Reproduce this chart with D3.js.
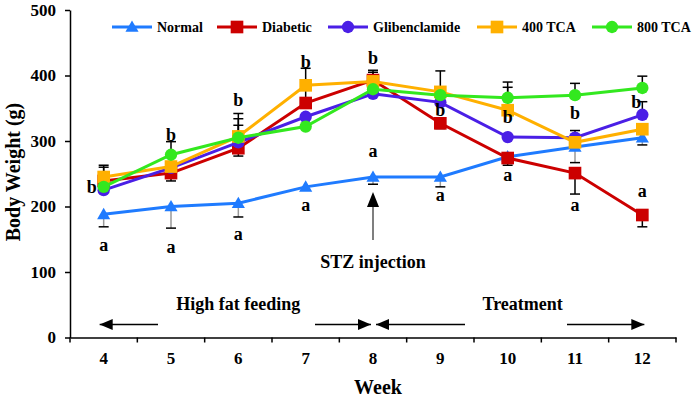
<!DOCTYPE html>
<html>
<head>
<meta charset="utf-8">
<script src="https://cdn.jsdelivr.net/npm/d3@7"></script>
<style>
  html, body { margin: 0; padding: 0; background: #fff; }
  svg { display: block; font-family: "Liberation Serif", "Times New Roman", serif; font-weight: bold; }
</style>
</head>
<body>
<svg id="chart" width="693" height="402"></svg>
<script>
// ---------------- data ----------------
const weeks = [4, 5, 6, 7, 8, 9, 10, 11, 12];
const yTicks = [0, 100, 200, 300, 400, 500];
const seriesNames = ["Normal", "Diabetic", "Glibenclamide", "400 TCA", "800 TCA"];

const normal        = [188, 200, 205, 230, 245, 245, 276, 291, 305];
const diabetic      = [239, 251, 289, 358, 393, 327, 274, 251, 187];
const glibenclamide = [225, 259, 298, 337, 372, 359, 306, 305, 340];
const tca400        = [245, 261, 307, 385, 391, 375, 347, 298, 318];
const tca800        = [230, 279, 305, 322, 379, 370, 366, 370, 381];

// signed error bars: positive = drawn upward, negative = drawn downward
const normalErr        = [-19, -33, -21, 0, -11, -15, -5, -24, -11];
const diabeticErr      = [21, -12, -12, 27, 12, -8, -11, -32, -18];
const glibenclamideErr = [0, 0, 26, 0, 0, 0, 0, 11, 20];
const tca400Err        = [18, 0, 35, 26, 17, 32, 35, 0, 0];
const tca800Err        = [0, 20, 29, 0, 0, 0, 24, 18, 18];

// significance letters
const letterWeeks  = [4, 5, 6, 7, 8, 9, 10, 11, 12, 4, 5, 6, 7, 8, 9, 10, 11, 12];
const letterText   = ["b","b","b","b","b","b","b","b","b","a","a","a","a","a","a","a","a","a"];
const letterValues = [230, 309, 363, 420, 427, 347, 337, 343, 360, 138, 135, 155, 199, 282, 214, 245, 199, 221];

// ---------------- setup ----------------
const svg = d3.select("#chart");
const colors = ["#1f7bff", "#cc0000", "#4a1fe6", "#ffb000", "#33e81f"];
const shapes = [d3.symbolTriangle, d3.symbolSquare, d3.symbolCircle, d3.symbolSquare, d3.symbolCircle];
const shapeSize = [75, 160, 120, 160, 120];
const values = [normal, diabetic, glibenclamide, tca400, tca800];
const errs = [normalErr, diabeticErr, glibenclamideErr, tca400Err, tca800Err];

const x = d3.scaleBand().domain(weeks).range([70, 676]).paddingInner(0).paddingOuter(0);
const cx = w => x(w) + x.bandwidth() / 2;
const y = d3.scaleLinear().domain([0, 500]).range([337.5, 10]);

// ---------------- axes ----------------
const yAxis = svg.append("g").attr("transform", "translate(70,0)")
  .call(d3.axisLeft(y).tickValues(yTicks).tickSize(5).tickSizeOuter(0).tickPadding(9));
yAxis.select(".domain").attr("stroke", "#000").attr("stroke-width", 1.5);
yAxis.selectAll(".tick line").attr("stroke", "#000").attr("stroke-width", 1.5);
yAxis.selectAll(".tick text").attr("font-size", 17).attr("font-family", "Liberation Serif")
  .attr("font-weight", "bold").attr("fill", "#000");

const xAxis = svg.append("g").attr("transform", `translate(0,${y(0)})`)
  .call(d3.axisBottom(x).tickSize(0).tickSizeOuter(0).tickPadding(14));
xAxis.select(".domain").attr("stroke", "#000").attr("stroke-width", 1.5);
xAxis.selectAll(".tick text").attr("font-size", 17).attr("font-family", "Liberation Serif")
  .attr("font-weight", "bold").attr("fill", "#000");
// tick marks at category boundaries
const edges = weeks.map(w => x(w)).concat([x(weeks[weeks.length - 1]) + x.bandwidth()]);
svg.append("g").selectAll("line").data(edges).join("line")
  .attr("x1", d => d).attr("x2", d => d)
  .attr("y1", y(0)).attr("y2", y(0) + 5)
  .attr("stroke", "#000").attr("stroke-width", 1.5);

// axis titles
svg.append("text").attr("x", 378).attr("y", 394).attr("text-anchor", "middle")
  .attr("font-size", 20).text("Week");
svg.append("text").attr("transform", "translate(20,172) rotate(-90)").attr("text-anchor", "middle")
  .attr("font-size", 20).text("Body Weight (g)");

// ---------------- annotations ----------------
const ann = svg.append("g");
function arrowHead(g, tipX, tipY, dir) {
  let pts;
  if (dir === "left") pts = [[tipX, tipY], [tipX + 13, tipY - 5.5], [tipX + 13, tipY + 5.5]];
  else if (dir === "right") pts = [[tipX, tipY], [tipX - 13, tipY - 5.5], [tipX - 13, tipY + 5.5]];
  else pts = [[tipX, tipY], [tipX - 6, tipY + 15], [tipX + 6, tipY + 15]];
  g.append("path").attr("d", d3.line()(pts) + "Z").attr("fill", "#000");
}
const arrowY = y(20);
ann.append("line").attr("x1", cx(4) - 4).attr("x2", 158).attr("y1", arrowY).attr("y2", arrowY).attr("stroke", "#000").attr("stroke-width", 1.5);
arrowHead(ann, cx(4) - 4, arrowY, "left");
ann.append("line").attr("x1", 315).attr("x2", cx(8) - 2).attr("y1", arrowY).attr("y2", arrowY).attr("stroke", "#000").attr("stroke-width", 1.5);
arrowHead(ann, cx(8) - 2, arrowY, "right");
ann.append("line").attr("x1", cx(8) + 3).attr("x2", 465).attr("y1", arrowY).attr("y2", arrowY).attr("stroke", "#000").attr("stroke-width", 1.5);
arrowHead(ann, cx(8) + 3, arrowY, "left");
ann.append("line").attr("x1", 567).attr("x2", cx(12) + 2).attr("y1", arrowY).attr("y2", arrowY).attr("stroke", "#000").attr("stroke-width", 1.5);
arrowHead(ann, cx(12) + 2, arrowY, "right");

ann.append("text").attr("x", cx(6)).attr("y", 310).attr("text-anchor", "middle").attr("font-size", 18).text("High fat feeding");
ann.append("text").attr("x", cx(10) + 15).attr("y", 310).attr("text-anchor", "middle").attr("font-size", 18).text("Treatment");
ann.append("text").attr("x", cx(8)).attr("y", 268).attr("text-anchor", "middle").attr("font-size", 18).text("STZ injection");
ann.append("line").attr("x1", cx(8)).attr("x2", cx(8)).attr("y1", 240).attr("y2", 205).attr("stroke", "#555").attr("stroke-width", 1.5);
arrowHead(ann, cx(8), 192, "up");

// ---------------- error bars ----------------
const eb = svg.append("g");
values.forEach((vals, si) => {
  vals.forEach((v, i) => {
    const e = errs[si][i];
    if (!e) return;
    const px = cx(weeks[i]);
    eb.append("line").attr("x1", px).attr("x2", px).attr("y1", y(v)).attr("y2", y(v + e))
      .attr("stroke", si === 0 ? "#999" : "#000").attr("stroke-width", 1.5);
    eb.append("line").attr("x1", px - 5).attr("x2", px + 5).attr("y1", y(v + e)).attr("y2", y(v + e))
      .attr("stroke", "#000").attr("stroke-width", 1.5);
  });
});

// ---------------- series ----------------
const lineGen = d3.line().x((d, i) => cx(weeks[i])).y(d => y(d));
values.forEach((vals, si) => {
  const g = svg.append("g");
  g.append("path").attr("d", lineGen(vals)).attr("fill", "none")
    .attr("stroke", colors[si]).attr("stroke-width", 3);
  g.selectAll("path.m").data(vals).join("path").attr("class", "m")
    .attr("d", d3.symbol().type(shapes[si]).size(shapeSize[si]))
    .attr("transform", (d, i) => `translate(${cx(weeks[i])},${y(d) + (si === 0 ? 1 : 0)})`)
    .attr("fill", colors[si]);
});

// ---------------- letters ----------------
svg.append("g").selectAll("text").data(letterText).join("text")
  .attr("x", (d, i) => cx(letterWeeks[i]) + (i === 0 ? -12 : (i === 8 ? -6 : 0)))
  .attr("y", (d, i) => y(letterValues[i]) + (d === "a" ? 4 : 6))
  .attr("text-anchor", "middle").attr("font-size", 18).text(d => d);

// ---------------- legend ----------------
const legendX = [112, 217, 328, 477, 592];
const legend = svg.append("g").attr("transform", "translate(0,27)");
seriesNames.forEach((name, si) => {
  const g = legend.append("g").attr("transform", `translate(${legendX[si]},0)`);
  g.append("line").attr("x1", 0).attr("x2", 40).attr("y1", 0).attr("y2", 0)
    .attr("stroke", colors[si]).attr("stroke-width", 3);
  g.append("path").attr("d", d3.symbol().type(shapes[si]).size(shapeSize[si]))
    .attr("transform", `translate(20,${si === 0 ? 1 : 0})`).attr("fill", colors[si]);
  g.append("text").attr("x", 45).attr("y", 5).attr("font-size", 14).text(name);
});
</script>
</body>
</html>
